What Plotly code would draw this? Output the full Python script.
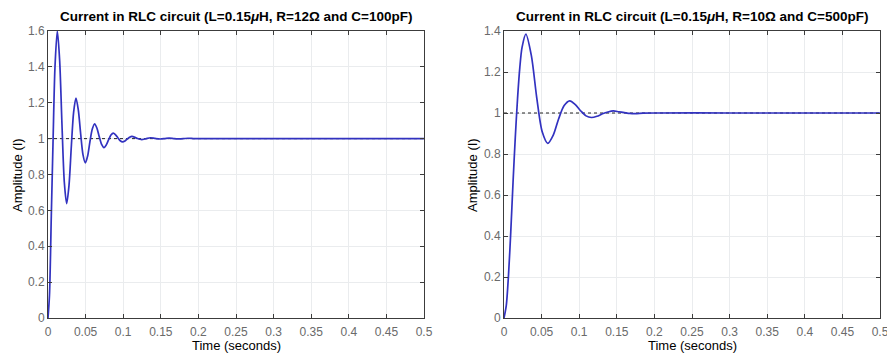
import plotly.graph_objects as go

# ---- data ----
x_ticks = [0, 0.05, 0.1, 0.15, 0.2, 0.25, 0.3, 0.35, 0.4, 0.45, 0.5]
x_tick_text = ["0", "0.05", "0.1", "0.15", "0.2", "0.25", "0.3", "0.35", "0.4", "0.45", "0.5"]
y_ticks_left = [0, 0.2, 0.4, 0.6, 0.8, 1.0, 1.2, 1.4, 1.6]
y_tick_text_left = ["0", "0.2", "0.4", "0.6", "0.8", "1", "1.2", "1.4", "1.6"]
y_ticks_right = [0, 0.2, 0.4, 0.6, 0.8, 1.0, 1.2, 1.4]
y_tick_text_right = ["0", "0.2", "0.4", "0.6", "0.8", "1", "1.2", "1.4"]

title_left = "Current in RLC circuit (L=0.15<i>μ</i>H, R=12Ω and C=100pF)"
title_right = "Current in RLC circuit (L=0.15<i>μ</i>H, R=10Ω and C=500pF)"

t_left = [0.0, 0.002, 0.0044, 0.0068, 0.0093, 0.0124, 0.0155, 0.0186, 0.0217, 0.0248,
          0.0279, 0.031, 0.0341, 0.0372, 0.0403, 0.0434, 0.0465, 0.0496, 0.0527,
          0.0558, 0.0589, 0.062, 0.0651, 0.0682, 0.0713, 0.0744, 0.0775, 0.0806,
          0.0837, 0.0868, 0.0899, 0.093, 0.0961, 0.0992, 0.1023, 0.1054, 0.1085,
          0.1116, 0.1178, 0.124, 0.13, 0.136, 0.1425, 0.149, 0.155, 0.161, 0.168,
          0.174, 0.18, 0.186, 0.195, 0.21, 0.3, 0.4, 0.5]
i_left = [0.0, 0.13, 0.57, 1.0, 1.40, 1.600, 1.435, 1.076, 0.757, 0.638,
          0.738, 0.955, 1.148, 1.226, 1.160, 1.028, 0.911, 0.865,
          0.903, 0.984, 1.053, 1.083, 1.058, 1.010, 0.968, 0.950, 0.965, 0.994,
          1.020, 1.031, 1.021, 1.004, 0.988, 0.982, 0.987, 0.998, 1.008,
          1.013, 1.003, 0.995, 0.999, 1.005, 1.001, 0.998, 1.000, 1.003, 1.000,
          0.999, 1.000, 1.002, 1.000, 1.000, 1.000, 1.000, 1.000]

t_right = [0.0, 0.003, 0.006, 0.009, 0.012, 0.015, 0.018, 0.021, 0.024, 0.0291,
           0.0364, 0.0436, 0.0509, 0.0582, 0.0655, 0.0727, 0.08, 0.0873, 0.0945,
           0.1018, 0.1091, 0.1163, 0.1236, 0.1309, 0.1382, 0.1454, 0.1527, 0.16,
           0.1673, 0.1745, 0.185, 0.2, 0.3, 0.4, 0.5]
i_right = [0.0, 0.06, 0.21, 0.42, 0.66, 0.88, 1.07, 1.22, 1.32, 1.385,
           1.280, 1.073, 0.907, 0.852, 0.892, 0.972, 1.036, 1.059, 1.042,
           1.011, 0.986, 0.978, 0.984, 0.996, 1.005, 1.010, 1.006, 1.002,
           0.998, 0.997, 0.999, 1.000, 1.000, 1.000, 1.000]

ref_t = [0.0, 0.5]
ref_level = [1.0, 1.0]

W, H = 887, 353
blue = "#3232c0"
frame = "#3c3c3c"
grid = "#eaecee"
tickfont = dict(family="Liberation Sans, Arial, sans-serif", size=12, color="#6a6a6a")
labfont = dict(family="Liberation Sans, Arial, sans-serif", size=13, color="#000000")
titfont = dict(family="Liberation Sans, Arial, sans-serif", size=13.5, color="#000000")

fig = go.Figure()
fig.add_trace(go.Scatter(x=ref_t, y=ref_level, mode="lines",
                         line=dict(color="#222222", width=1, dash="dot"),
                         xaxis="x", yaxis="y", showlegend=False, hoverinfo="skip"))
fig.add_trace(go.Scatter(x=t_left, y=i_left, mode="lines",
                         line=dict(color=blue, width=1.7, shape="spline", smoothing=0.8),
                         xaxis="x", yaxis="y", showlegend=False))
fig.add_trace(go.Scatter(x=ref_t, y=ref_level, mode="lines",
                         line=dict(color="#222222", width=1, dash="dot"),
                         xaxis="x2", yaxis="y2", showlegend=False, hoverinfo="skip"))
fig.add_trace(go.Scatter(x=t_right, y=i_right, mode="lines",
                         line=dict(color=blue, width=1.7, shape="spline", smoothing=0.8),
                         xaxis="x2", yaxis="y2", showlegend=False))


def xax(domain, anchor):
    return dict(domain=domain, anchor=anchor, range=[0, 0.5], automargin=False,
                tickmode="array", tickvals=x_ticks, ticktext=x_tick_text,
                ticks="inside", ticklen=4, tickcolor=frame, tickwidth=1,
                showline=True, linecolor=frame, linewidth=1, mirror="ticks",
                showgrid=True, gridcolor=grid, gridwidth=1, zeroline=False,
                tickfont=tickfont, fixedrange=True, ticklabeloverflow="allow",
                ticklabelstandoff=3)


def yax(domain, anchor, rng, tv, tt):
    return dict(domain=domain, anchor=anchor, range=rng, automargin=False,
                tickmode="array", tickvals=tv, ticktext=tt,
                ticks="inside", ticklen=4, tickcolor=frame, tickwidth=1,
                showline=True, linecolor=frame, linewidth=1, mirror="ticks",
                showgrid=True, gridcolor=grid, gridwidth=1, zeroline=False,
                tickfont=tickfont, fixedrange=True, ticklabeloverflow="allow")


ydom = [35 / H, 322 / H]
fig.update_layout(
    width=W, height=H, autosize=False,
    margin=dict(l=0, r=0, t=0, b=0, pad=0),
    paper_bgcolor="white", plot_bgcolor="white",
    xaxis=xax([48 / W, 424 / W], "y"),
    yaxis=yax(ydom, "x", [0, 1.6], y_ticks_left, y_tick_text_left),
    xaxis2=xax([504 / W, 880 / W], "y2"),
    yaxis2=yax(ydom, "x2", [0, 1.4], y_ticks_right, y_tick_text_right),
    annotations=[
        dict(text="<b>" + title_left + "</b>", x=236 / W, y=1 - 17 / H, xref="paper", yref="paper",
             xanchor="center", yanchor="middle", showarrow=False, font=titfont),
        dict(text="<b>" + title_right + "</b>", x=692 / W, y=1 - 17 / H, xref="paper", yref="paper",
             xanchor="center", yanchor="middle", showarrow=False, font=titfont),
        dict(text="Time (seconds)", x=236 / W, y=8 / H, xref="paper", yref="paper",
             xanchor="center", yanchor="middle", showarrow=False, font=labfont),
        dict(text="Time (seconds)", x=692 / W, y=8 / H, xref="paper", yref="paper",
             xanchor="center", yanchor="middle", showarrow=False, font=labfont),
        dict(text="Amplitude (I)", x=17 / W, y=1 - 175 / H, xref="paper", yref="paper",
             xanchor="center", yanchor="middle", showarrow=False, textangle=-90, font=labfont),
        dict(text="Amplitude (I)", x=472 / W, y=1 - 175 / H, xref="paper", yref="paper",
             xanchor="center", yanchor="middle", showarrow=False, textangle=-90, font=labfont),
    ],
)

fig.write_html("out.html")
